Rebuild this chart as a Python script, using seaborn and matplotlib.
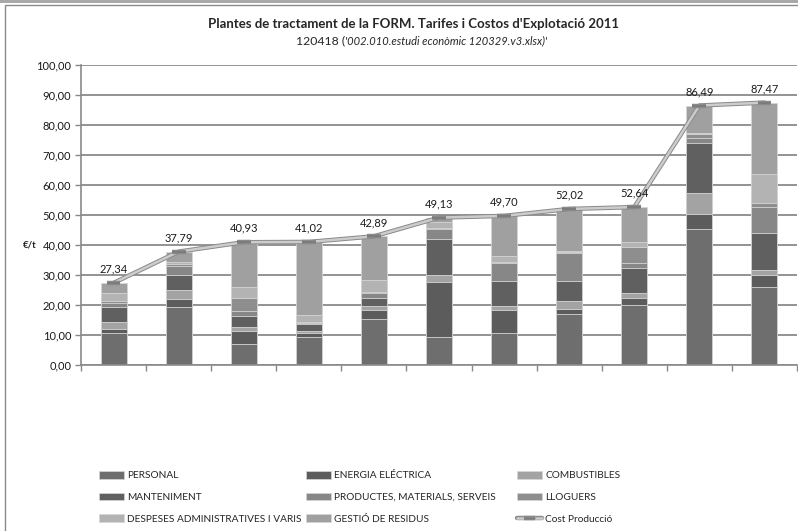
import matplotlib
matplotlib.use("Agg")
import matplotlib.pyplot as plt
import matplotlib.patheffects as pe
from matplotlib.patches import Patch, Rectangle
from matplotlib.lines import Line2D
import numpy as np
import pandas as pd
import seaborn as sns

# plants (x categories have no labels in the original)
plantes = [str(i) for i in range(1, 12)]

# cost components, EUR/t (bottom -> top)
personal = [10.8, 19.2, 6.9, 9.2, 15.2, 9.2, 10.8, 17.0, 20.0, 45.3, 25.9]
energia = [1.1, 2.7, 4.5, 1.6, 3.1, 18.6, 7.5, 1.8, 2.4, 5.0, 4.1]
combustibles = [2.4, 3.1, 1.2, 0.6, 1.4, 2.2, 1.4, 2.6, 1.5, 6.9, 1.7]
manteniment = [5.1, 5.0, 3.7, 2.3, 2.7, 11.9, 8.4, 6.7, 8.5, 16.9, 12.2]
productes = [1.4, 3.0, 1.8, 0.4, 1.5, 3.3, 6.0, 9.3, 1.5, 1.5, 8.9]
lloguers = [0.6, 0.6, 4.1, 0.3, 0.5, 0.5, 0.3, 0.3, 5.5, 1.3, 1.3]
despeses = [2.5, 0.6, 3.7, 2.3, 3.9, 2.0, 1.9, 0.4, 1.5, 0.6, 9.6]
gestio = [3.44, 3.59, 15.03, 24.32, 14.59, 1.43, 13.40, 13.92, 11.74, 8.99, 23.77]

cost_produccio = [27.34, 37.79, 40.93, 41.02, 42.89, 49.13, 49.70, 52.02, 52.64, 86.49, 87.47]

components = ["PERSONAL", "ENERGIA ELÉCTRICA", "COMBUSTIBLES", "MANTENIMENT",
              "PRODUCTES, MATERIALS, SERVEIS", "LLOGUERS",
              "DESPESES ADMINISTRATIVES I VARIS", "GESTIÓ DE RESIDUS"]
colors = ["#6e6e6e", "#5c5c5c", "#a3a3a3", "#606060",
          "#878787", "#8e8e8e", "#b3b3b3", "#a0a0a0"]

df = pd.DataFrame({
    "planta": plantes,
    components[0]: personal,
    components[1]: energia,
    components[2]: combustibles,
    components[3]: manteniment,
    components[4]: productes,
    components[5]: lloguers,
    components[6]: despeses,
    components[7]: gestio,
})
cum = df[components].cumsum(axis=1)

sns.set_theme(style="white")
plt.rcParams["font.family"] = ["Lato", "DejaVu Sans"]

fig = plt.figure(figsize=(7.98, 5.31), dpi=100)
ax = fig.add_axes([81 / 798, 1 - 365 / 531, 716 / 798, 300 / 531])

# stacked bars: draw cumulative totals from the top layer down
for comp, col in reversed(list(zip(components, colors))):
    sns.barplot(x=df["planta"], y=cum[comp], color=col, width=0.4,
                edgecolor="#d6d6d6", linewidth=0.6, saturation=1,
                errorbar=None, ax=ax, zorder=2)

# cost line
sns.lineplot(x=np.arange(len(plantes)), y=cost_produccio, ax=ax,
             color="#cccccc", linewidth=1.8, marker="_", markersize=10,
             markeredgecolor="#7a7a7a", markeredgewidth=1.2, zorder=4,
             path_effects=[pe.Stroke(linewidth=3.2, foreground="#8a8a8a"), pe.Normal()])

for i, v in enumerate(cost_produccio):
    ax.text(i, v + 2.8, f"{v:.2f}".replace(".", ","), ha="center", va="bottom",
            fontsize=8, color="#1a1a1a", zorder=5)

ax.set_xlim(-0.5, len(plantes) - 0.5)
ax.set_ylim(0, 100)
ax.set_yticks(np.arange(0, 101, 10))
ax.set_yticklabels([f"{t:.2f}".replace(".", ",") for t in np.arange(0, 101, 10)],
                   fontsize=8, color="#1a1a1a")
ax.set_xticks([])
ax.set_xticks(np.arange(-0.5, len(plantes), 1), minor=True)
ax.tick_params(axis="x", which="minor", direction="out", length=4, color="#888888", width=1, bottom=True)
ax.tick_params(axis="y", direction="out", length=4, color="#888888", width=1, left=True, pad=3)
ax.set_xlabel("")
ax.set_ylabel("")
ax.yaxis.grid(True, color="#8a8a8a", linewidth=1.3)
ax.set_axisbelow(True)
for s in ["top", "right"]:
    ax.spines[s].set_visible(False)
for s in ["left", "bottom"]:
    ax.spines[s].set_color("#8a8a8a")
    ax.spines[s].set_linewidth(1.2)

fig.text(30 / 798, 1 - 245 / 531, "€/t", fontsize=7, fontweight="bold", ha="center", va="center")

# titles
fig.text(413 / 798, 1 - 24 / 531,
         "Plantes de tractament de la FORM. Tarifes i Costos d'Explotació 2011",
         fontsize=9.5, fontweight="bold", ha="center", va="center")
fig.text(345 / 798, 1 - 41 / 531, "120418 (", fontsize=8.8, ha="right", va="center")
fig.text(345 / 798, 1 - 41 / 531, "'002.010.estudi econòmic 120329.v3.xlsx)'",
         fontsize=8.0, style="italic", ha="left", va="center")

# frame like the spreadsheet chart area
fig.patches.append(Rectangle((5 / 798, -0.01), 1.0, 1 - 5 / 531 + 0.01, transform=fig.transFigure,
                             fill=False, edgecolor="#8a8a8a", linewidth=1.0))
fig.patches.append(Rectangle((0, 1 - 3 / 531), 1, 3 / 531, transform=fig.transFigure,
                             facecolor="#a8a8a8", edgecolor="none"))

# legend, three columns placed separately
handles = [Patch(facecolor=c, edgecolor="#d6d6d6", linewidth=0.5) for c in colors]
line_handle = Line2D([0], [0], color="#cccccc", linewidth=1.8, marker="_", markersize=8,
                     markeredgecolor="#7a7a7a",
                     path_effects=[pe.Stroke(linewidth=3.2, foreground="#8a8a8a"), pe.Normal()])
handles.append(line_handle)
labels = components + ["Cost Producció"]
columns = [[0, 3, 6], [1, 4, 7], [2, 5, 8]]
col_x = [99, 306, 517]
for idx, x0 in zip(columns, col_x):
    fig.legend([handles[k] for k in idx], [labels[k] for k in idx],
               loc="upper left", bbox_to_anchor=(x0 / 798, 1 - 471 / 531),
               frameon=False, fontsize=7.3, handlelength=2.5, handleheight=0.8,
               handletextpad=0.3, labelspacing=1.2, borderaxespad=0, borderpad=0)

fig.savefig("out.png", dpi=100)
